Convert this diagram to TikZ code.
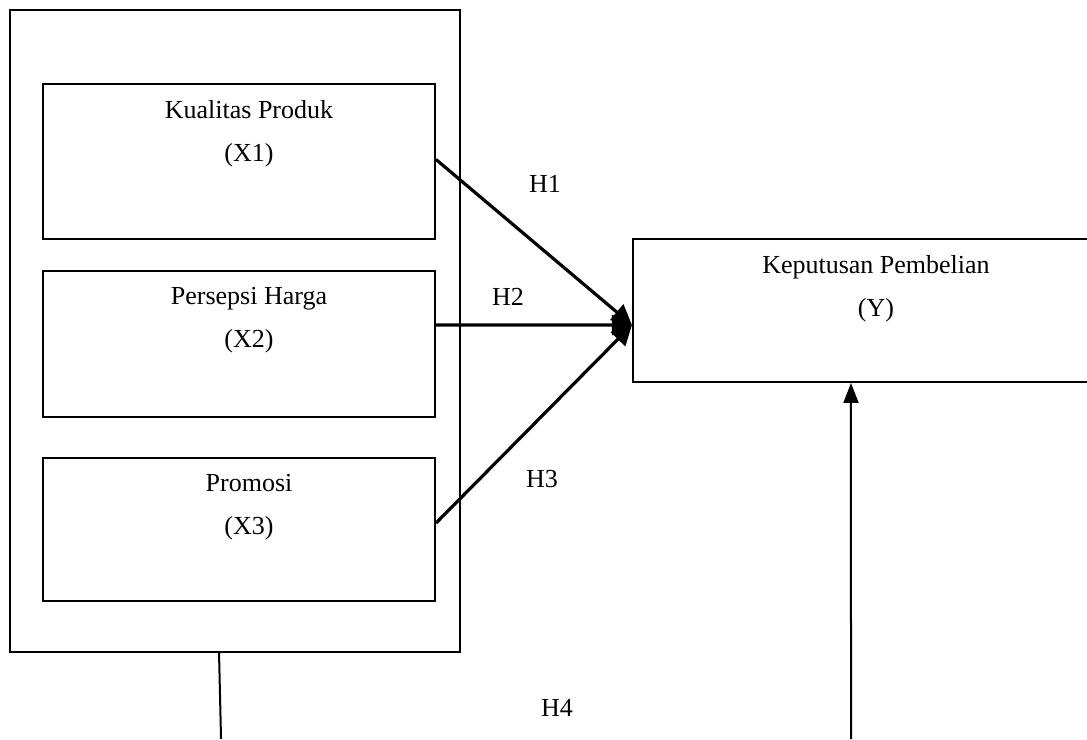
\documentclass[tikz,border=0pt]{standalone}
\usepackage{fontspec}
\setmainfont{Liberation Serif}
\usepackage{tikz}
\usetikzlibrary{positioning,arrows.meta,calc}

\begin{document}
\begin{tikzpicture}[
    vbox/.style={draw, line width=1pt, minimum width=6.888cm, inner sep=0pt},
    lbl/.style={anchor=north, align=center, inner sep=0pt, yshift=-8.6pt,
                font=\fontsize{13}{21.5}\selectfont},
    hlbl/.style={font=\fontsize{13}{16}\selectfont, inner sep=0pt},
    arr/.style={-{Triangle[length=10pt,width=10pt]}, line width=1.6pt}
]
\useasboundingbox (0,0) rectangle (19.101,12.986);
\clip (0,0) rectangle (19.101,12.986);
% variabel bebas
\node[draw, line width=1pt, minimum width=7.908cm, minimum height=11.281cm] (outer) at (4.130,7.170) {};
\node[vbox, minimum height=2.724cm, label={[lbl, xshift=5pt]north:Kualitas Produk\\(X1)}] (x1) at (4.200,10.148) {};
\node[vbox, minimum height=2.566cm, label={[lbl, xshift=5pt]north:Persepsi Harga\\(X2)}]  (x2) at (4.200,6.941) {};
\node[vbox, minimum height=2.513cm, label={[lbl, xshift=5pt]north:Promosi\\(X3)}]         (x3) at (4.200,3.681) {};
% variabel terikat
\node[draw, line width=1pt, minimum width=8.540cm, minimum height=2.513cm,
      label={[lbl]north:Keputusan Pembelian\\(Y)}] (y) at (15.393,7.530) {};
% hipotesis
\node[hlbl] (h1) at (9.577,9.753) {H1};
\node[hlbl] (h2) at (8.927,7.767) {H2};
\node[hlbl] (h3) at (9.524,4.569) {H3};
\node[hlbl] (h4) at (9.788,0.545) {H4};
\coordinate (bl) at (3.884,0);
\coordinate (br) at (14.954,0);
\draw[arr] ([yshift=1pt]x1.east) -- ([yshift=-7.25pt]y.west);
\draw[arr] ([yshift=9.5pt]x2.east) -- ([yshift=-7.25pt]y.west);
\draw[arr] ([yshift=3.25pt]x3.east) -- ([yshift=-7.25pt]y.west);
\draw[line width=1pt] ([xshift=-8pt]outer.south) -- (bl);
\draw[-{Triangle[length=10pt,width=7.5pt]}, line width=1pt] (br) -- ([xshift=-12.5pt]y.south);
\end{tikzpicture}
\end{document}
